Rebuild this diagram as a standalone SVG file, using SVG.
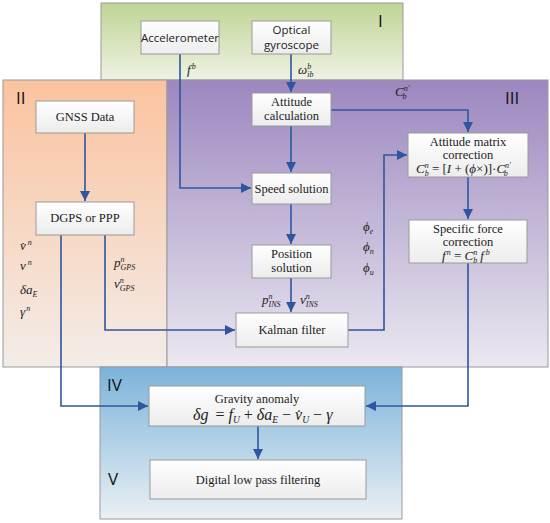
<svg xmlns="http://www.w3.org/2000/svg" width="550" height="523" viewBox="0 0 550 523">
<defs>
<linearGradient id="gI" x1="0" y1="0" x2="0" y2="1"><stop offset="0" stop-color="#bfd494"/><stop offset="1" stop-color="#eef2e4"/></linearGradient>
<linearGradient id="gII" x1="0" y1="0" x2="0" y2="1"><stop offset="0" stop-color="#fbc39f"/><stop offset="1" stop-color="#f3ece8"/></linearGradient>
<linearGradient id="gIII" x1="0" y1="0" x2="0" y2="1"><stop offset="0" stop-color="#9c87bf"/><stop offset="1" stop-color="#ebe8f0"/></linearGradient>
<linearGradient id="gIV" x1="0" y1="0" x2="0" y2="1"><stop offset="0" stop-color="#7cb3da"/><stop offset="1" stop-color="#eaf0f4"/></linearGradient>
<linearGradient id="gN" x1="0" y1="0" x2="0" y2="1"><stop offset="0" stop-color="#ffffff"/><stop offset="1" stop-color="#ececec"/></linearGradient>
<marker id="ah" viewBox="0 0 10 10" refX="10" refY="5" markerWidth="10" markerHeight="10" markerUnits="userSpaceOnUse" orient="auto"><path d="M0,0 L10,5 L0,10 Z" fill="#2f55a0"/></marker>
</defs>
<style>
.reg{stroke:#9a9a9a;stroke-width:1}
.node rect{fill:url(#gN);stroke:#9a9a9a;stroke-width:1}
.sans{font-family:"Open Sans","Liberation Sans",sans-serif;font-size:11.5px;fill:#222}
.rm{font-family:"Liberation Serif","Times New Roman",serif;font-size:12.5px;fill:#222}
.math{font-family:"Liberation Serif","Times New Roman",serif;font-style:italic;font-size:13px;fill:#222}
.big{font-size:16px}
.rn{font-family:"Open Sans","Liberation Sans",sans-serif;font-size:17px;fill:#111}
.c{fill:none;stroke:#2f55a0;stroke-width:1.6}
.sm{font-size:8px}
.sm2{font-size:9.5px}
.up{font-style:normal}
</style>
<g id="regions">
<rect id="regionI" class="reg" x="101" y="3" width="302" height="77" fill="url(#gI)"/>
<rect id="regionII" class="reg" x="3" y="80" width="164" height="287" fill="url(#gII)"/>
<rect id="regionIII" class="reg" x="167" y="80" width="381" height="287" fill="url(#gIII)"/>
<rect id="regionIV" class="reg" x="100" y="367" width="302" height="152" fill="url(#gIV)"/>
<text class="rn" x="378" y="27">I</text>
<text class="rn" x="16" y="104">II</text>
<text class="rn" x="505" y="104">III</text>
<text class="rn" x="107" y="391">IV</text>
<text class="rn" x="108" y="485">V</text>
</g>
<g id="connectors">
<path class="c" d="M180,54 V188 H251" marker-end="url(#ah)"/>
<path class="c" d="M291,54 V92" marker-end="url(#ah)"/>
<path class="c" d="M291,126 V172" marker-end="url(#ah)"/>
<path class="c" d="M291,204 V244" marker-end="url(#ah)"/>
<path class="c" d="M291,278 V312" marker-end="url(#ah)"/>
<path class="c" d="M331,110 H468 V132" marker-end="url(#ah)"/>
<path class="c" d="M348,330 H384 V155 H407" marker-end="url(#ah)"/>
<path class="c" d="M468,177 V219" marker-end="url(#ah)"/>
<path class="c" d="M468,263 V406 H366" marker-end="url(#ah)"/>
<path class="c" d="M85,133 V201" marker-end="url(#ah)"/>
<path class="c" d="M61,235 V406 H148" marker-end="url(#ah)"/>
<path class="c" d="M105,235 V330 H235" marker-end="url(#ah)"/>
<path class="c" d="M258,426 V459" marker-end="url(#ah)"/>
</g>
<g id="acc" class="node"><rect x="141" y="21" width="78" height="33"/><text class="sans" x="180" y="42" text-anchor="middle">Accelerometer</text></g>
<g id="gyro" class="node"><rect x="252" y="21" width="79" height="33"/><text class="sans" x="291.5" y="34" text-anchor="middle">Optical</text><text class="sans" x="291.5" y="49" text-anchor="middle">gyroscope</text></g>
<g id="att" class="node"><rect x="252" y="93" width="79" height="33"/><text class="rm" x="291.5" y="106" text-anchor="middle">Attitude</text><text class="rm" x="291.5" y="120" text-anchor="middle">calculation</text></g>
<g id="speed" class="node"><rect x="252" y="173" width="79" height="31"/><text class="rm" x="291.5" y="193" text-anchor="middle">Speed solution</text></g>
<g id="pos" class="node"><rect x="252" y="245" width="79" height="33"/><text class="rm" x="291.5" y="258" text-anchor="middle">Position</text><text class="rm" x="291.5" y="272" text-anchor="middle">solution</text></g>
<g id="kalman" class="node"><rect x="236" y="313" width="112" height="34"/><text class="rm" x="292" y="334" text-anchor="middle">Kalman filter</text></g>
<g id="amc" class="node"><rect x="408" y="133" width="120" height="44"/><text class="rm" x="468" y="146" text-anchor="middle">Attitude matrix</text><text class="rm" x="468" y="159" text-anchor="middle">correction</text>
<text class="math" x="416" y="173">C<tspan class="sm" dy="-5">n</tspan><tspan class="sm" dx="-4" dy="8">b</tspan><tspan class="up" dy="-3"> = [</tspan>I<tspan class="up"> + (</tspan>ϕ<tspan class="up">×)]·</tspan>C<tspan class="sm" dy="-5">n′</tspan><tspan class="sm" dx="-7" dy="8">b</tspan></text></g>
<g id="sfc" class="node"><rect x="409" y="220" width="118" height="43"/><text class="rm" x="468" y="233" text-anchor="middle">Specific force</text><text class="rm" x="468" y="246" text-anchor="middle">correction</text>
<text class="math" x="442" y="260">f<tspan class="sm" dx="1" dy="-5">n</tspan><tspan class="up" dy="5"> = </tspan>C<tspan class="sm" dy="-5">n</tspan><tspan class="sm" dx="-4" dy="8">b</tspan><tspan dx="3" dy="-3">f</tspan><tspan class="sm" dx="2" dy="-5">b</tspan></text></g>
<g id="gnss" class="node"><rect x="36" y="101" width="98" height="32"/><text class="rm" x="85" y="121" text-anchor="middle">GNSS Data</text></g>
<g id="dgps" class="node"><rect x="36" y="202" width="98" height="33"/><text class="rm" x="85" y="222" text-anchor="middle">DGPS or PPP</text></g>
<g id="grav" class="node"><rect x="149" y="386" width="216" height="40"/><text class="rm" x="257" y="403" text-anchor="middle">Gravity anomaly</text>
<text class="math big" x="193" y="420">δg <tspan class="up" dx="3">= </tspan>f<tspan class="sm2" dy="3">U</tspan><tspan class="up" dy="-3"> + </tspan>δa<tspan class="sm2" dy="3">E</tspan><tspan class="up" dy="-3"> − </tspan>v̇<tspan class="sm2" dy="3">U</tspan><tspan class="up" dy="-3"> − </tspan>γ</text></g>
<g id="dlpf" class="node"><rect x="150" y="460" width="216" height="39"/><text class="rm" x="258" y="484" text-anchor="middle">Digital low pass filtering</text></g>
<g id="labels" class="math">
<text x="187" y="74">f<tspan class="sm" dx="1" dy="-5">b</tspan></text>
<text x="298" y="74">ω<tspan class="sm" dy="-5">b</tspan><tspan class="sm" dx="-4" dy="8">ib</tspan></text>
<text x="395" y="96">C<tspan class="sm" dy="-5">n′</tspan><tspan class="sm" dx="-7" dy="8">b</tspan></text>
<text x="20" y="250">v̇<tspan class="sm" dx="2" dy="-5">n</tspan></text>
<text x="20" y="270">v<tspan class="sm" dx="2" dy="-5">n</tspan></text>
<text x="20" y="294">δa<tspan class="sm" dy="3">E</tspan></text>
<text x="20" y="316">γ<tspan class="sm" dx="1" dy="-5">n</tspan></text>
<text x="114" y="267">p<tspan class="sm" dy="-5">n</tspan><tspan class="sm" dx="-4" dy="8">GPS</tspan></text>
<text x="114" y="288">v<tspan class="sm" dy="-5">n</tspan><tspan class="sm" dx="-4" dy="8">GPS</tspan></text>
<text x="363" y="231">ϕ<tspan class="sm" dy="3">e</tspan></text>
<text x="363" y="251">ϕ<tspan class="sm" dy="3">n</tspan></text>
<text x="363" y="272">ϕ<tspan class="sm" dy="3">u</tspan></text>
<text x="262" y="304">p<tspan class="sm" dy="-5">n</tspan><tspan class="sm" dx="-4" dy="8">INS</tspan></text>
<text x="300" y="304">v<tspan class="sm" dy="-5">n</tspan><tspan class="sm" dx="-4" dy="8">INS</tspan></text>
</g>
</svg>
